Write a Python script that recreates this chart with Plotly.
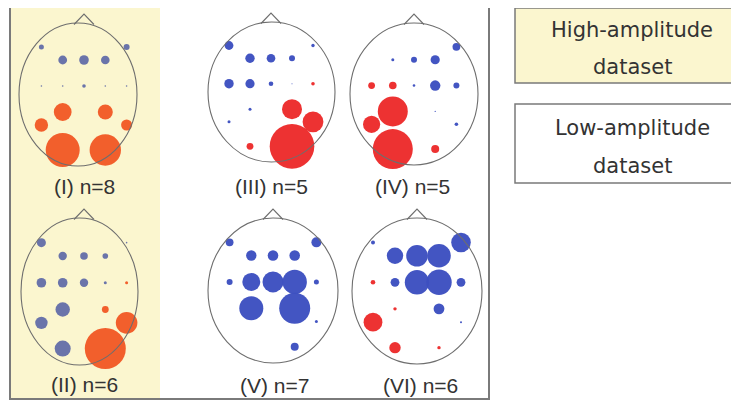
import plotly.graph_objects as go

# ---------------- data ----------------
# electrode order (10-20 style) shared by every map
electrodes = ["Fp1", "Fp2", "F3", "Fz", "F4", "T3", "C3", "Cz", "C4", "T4",
              "P3", "P4", "T5", "T6", "O1", "O2"]

# signed effect per electrode (positive = red, negative = blue), arbitrary units
map_I   = [-2.5, -3.0, -4.4, -4.8, -4.3, -0.8, -0.8, -1.8, -0.8, -0.8,
           8.9, 7.5, 6.7, 5.5, 17.0, 15.7]
map_II  = [-4.5, -0.8, -4.2, -3.8, -2.8, -4.8, -4.8, -4.2, -1.5, 1.5,
           -7.2, 3.4, -6.2, 10.8, -8.0, 20.5]
map_III = [-4.4, -1.7, -4.7, -4.3, -3.0, -4.7, -4.6, -2.3, -0.5, 1.8,
           -1.5, 10.0, -1.5, 10.4, 3.4, 22.3]
map_IV  = [0.0, -3.9, -1.5, -3.0, -4.6, 3.4, 3.8, -1.3, -5.2, -3.0,
           15.0, -0.6, 8.6, -1.8, 20.0, 4.0]
map_V   = [-3.9, -5.0, -5.2, -5.3, -5.3, -3.0, -9.0, -10.5, -12.2, -2.5,
           -12.0, -15.5, 0.0, -1.5, 0.0, -4.0]
map_VI  = [-2.0, -9.8, -8.2, -10.8, -11.8, 2.3, -4.4, -12.2, -12.7, -4.4,
           1.7, -5.4, 9.4, -1.0, 5.7, 1.7]

labels = ["(I) n=8", "(II) n=6", "(III) n=5", "(IV) n=5", "(V) n=7", "(VI) n=6"]
legend_high = ["High-amplitude", "dataset"]
legend_low = ["Low-amplitude", "dataset"]

# ---------------- layout / style ----------------
# electrode grid: (column, row) ; rows measured from the top of the head
grid = {"Fp1": (-2, 0), "Fp2": (2, 0), "F3": (-1, 1), "Fz": (0, 1), "F4": (1, 1),
        "T3": (-2, 2), "C3": (-1, 2), "Cz": (0, 2), "C4": (1, 2), "T4": (2, 2),
        "P3": (-1, 3), "P4": (1, 3), "T5": (-2, 4), "T6": (2, 4),
        "O1": (-1, 5), "O2": (1, 5)}
row_off = [24, 37, 63, 89, 102, 127]

# head geometry: grid centre x, column step, ellipse box
heads = [
    dict(gx=84, step=21.3, ex0=19, ex1=137, top=23, bot=166, pal="warm", lx=84, ly=186),
    dict(gx=84, step=21.3, ex0=21, ex1=138, top=218, bot=365, pal="warm", lx=84, ly=384),
    dict(gx=271, step=21.0, ex0=208, ex1=335, top=22, bot=162, pal="vivid", lx=271, ly=186),
    dict(gx=414, step=21.2, ex0=350, ex1=478, top=23, bot=165, pal="vivid", lx=412, ly=186),
    dict(gx=273, step=21.7, ex0=208, ex1=338, top=218, bot=363, pal="vivid", lx=274, ly=385),
    dict(gx=417, step=22.0, ex0=352, ex1=482, top=218, bot=364, pal="vivid", lx=420, ly=385),
]
maps = [map_I, map_II, map_III, map_IV, map_V, map_VI]
palettes = {"warm": ("#f25a26", "#6570a8"), "vivid": ("#ec2b2b", "#3d4fc0")}
SIZE_PER_UNIT = 2.0
YELLOW = "#fbf6cf"
GREY = "#7a7a7a"
TXT = "#333333"
PAGE_OFFSET = 8  # default body margin of the html page

fig = go.Figure()

for h, vals in zip(heads, maps):
    red, blue = palettes[h["pal"]]
    scale = (h["bot"] - h["top"]) / 143.0
    xs, ys, sz, col = [], [], [], []
    for name, v in zip(electrodes, vals):
        if v == 0:
            continue
        c, r = grid[name]
        xs.append(h["gx"] + c * h["step"])
        ys.append(h["top"] + row_off[r] * scale)
        sz.append(abs(v) * SIZE_PER_UNIT)
        col.append(red if v > 0 else blue)
    fig.add_trace(go.Scatter(x=xs, y=ys, mode="markers",
                             marker=dict(size=sz, color=col, opacity=0.97,
                                         line=dict(width=0)),
                             hoverinfo="skip", showlegend=False))
    fig.add_shape(type="circle", xref="x", yref="y", x0=h["ex0"], x1=h["ex1"],
                  y0=h["top"], y1=h["bot"], line=dict(color="#6e6e6e", width=1.1),
                  layer="above")
    t = h["top"]
    g = h["gx"]
    fig.add_shape(type="path", xref="x", yref="y",
                  path=f"M {g-10},{t+1.5} L {g},{t-9} L {g+10},{t+1.5}",
                  line=dict(color="#6e6e6e", width=1.1), layer="above")

for h, lab in zip(heads, labels):
    fig.add_annotation(x=h["lx"], y=h["ly"], text=lab, showarrow=False,
                       xref="x", yref="y", xanchor="center", yanchor="middle",
                       font=dict(family="Liberation Sans, Arial", size=21, color=TXT))

fig.add_shape(type="rect", xref="x", yref="y", x0=10, x1=160, y0=7, y1=399,
              fillcolor=YELLOW, line=dict(width=0), layer="below")
fig.add_shape(type="rect", xref="x", yref="y", x0=10, x1=489, y0=7, y1=399,
              line=dict(color=GREY, width=2), layer="above")
fig.add_shape(type="rect", xref="x", yref="y", x0=515, x1=748, y0=8, y1=83,
              fillcolor=YELLOW, line=dict(color=GREY, width=1.5), layer="below")
fig.add_shape(type="rect", xref="x", yref="y", x0=515, x1=748, y0=104, y1=183,
              fillcolor="white", line=dict(color=GREY, width=1.5), layer="below")

for txt, yy in zip(legend_high, [30, 67]):
    fig.add_annotation(x=632, y=yy, text=txt, showarrow=False, xref="x", yref="y",
                       xanchor="center", yanchor="middle",
                       font=dict(family="DejaVu Sans", size=21, color=TXT))
for txt, yy in zip(legend_low, [128, 166]):
    fig.add_annotation(x=632, y=yy, text=txt, showarrow=False, xref="x", yref="y",
                       xanchor="center", yanchor="middle",
                       font=dict(family="DejaVu Sans", size=21, color=TXT))

W, H = 739, 403
fig.update_layout(width=W - PAGE_OFFSET, height=H - PAGE_OFFSET,
                  margin=dict(l=0, r=0, t=0, b=0),
                  paper_bgcolor="white", plot_bgcolor="white",
                  xaxis=dict(range=[PAGE_OFFSET, W], visible=False, fixedrange=True),
                  yaxis=dict(range=[H, PAGE_OFFSET], visible=False, fixedrange=True),
                  showlegend=False)

fig.write_html("out.html")
